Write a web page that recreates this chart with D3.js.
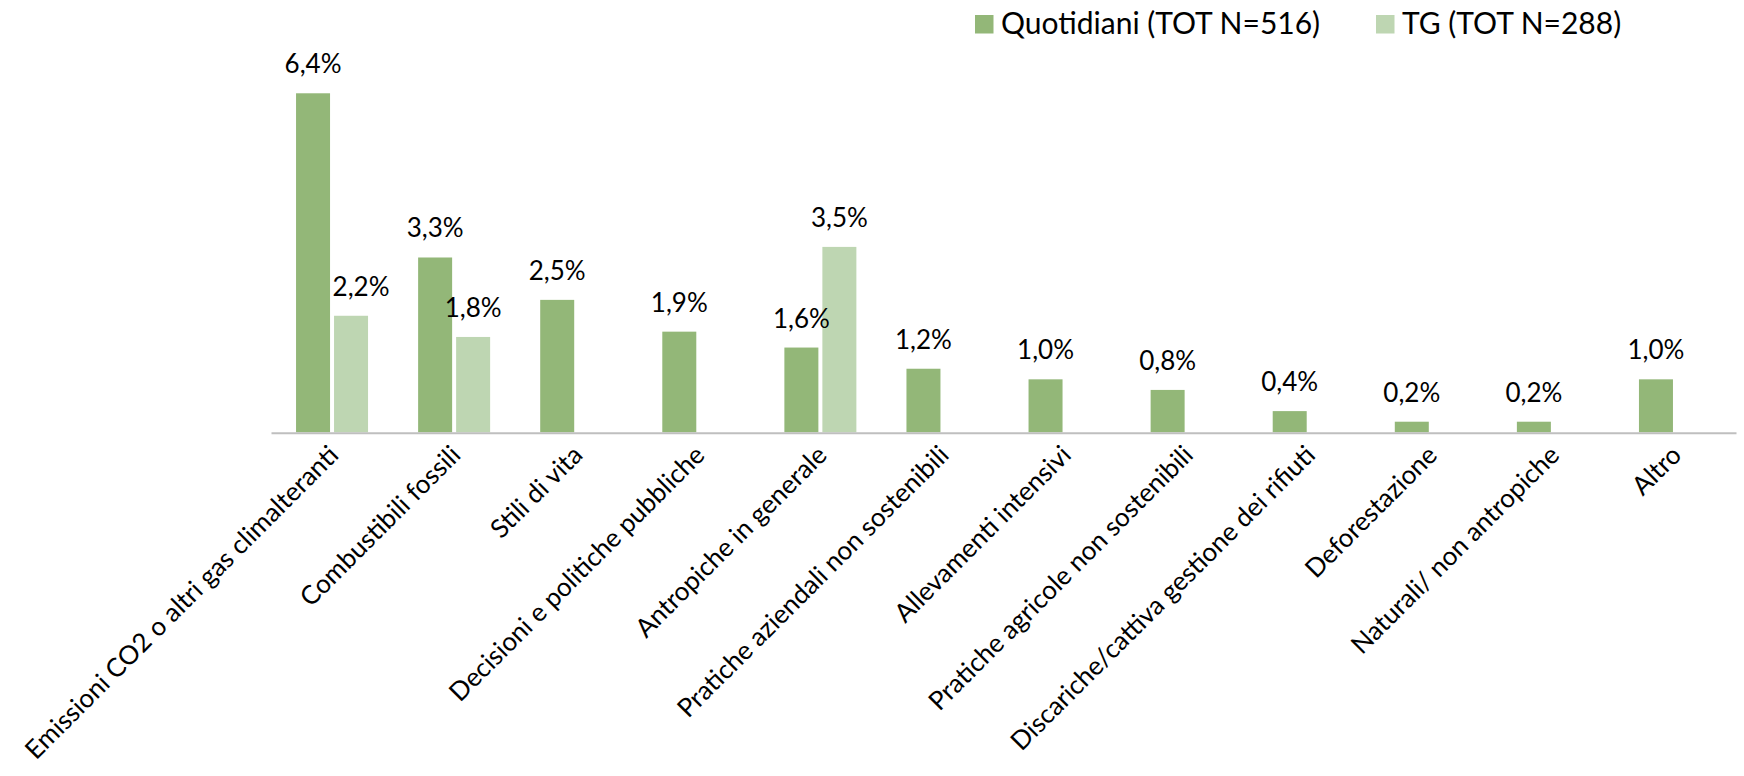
<!DOCTYPE html>
<html lang="it">
  <head>
    <meta charset="utf-8">
    <title>Cause</title>
    <script src="https://d3js.org/d3.v7.min.js"></script>
    <style>
    body { margin: 0; background: #fff; }
    text { font-family: Lato, "Open Sans", sans-serif; fill: #000; }
    </style>
  </head>
  <body>
    <div id="chart"></div>

    <script>
        // data
        const categories = [
            "Emissioni CO2 o altri gas climalteranti",
            "Combustibili fossili",
            "Stili di vita",
            "Decisioni e politiche pubbliche",
            "Antropiche in generale",
            "Pratiche aziendali non sostenibili",
            "Allevamenti intensivi",
            "Pratiche agricole non sostenibili",
            "Discariche/cattiva gestione dei rifiuti",
            "Deforestazione",
            "Naturali/ non antropiche",
            "Altro"
        ]
        const seriesNames = ["Quotidiani (TOT N=516)", "TG (TOT N=288)"]
        const quotidiani = [6.4, 3.3, 2.5, 1.9, 1.6, 1.2, 1.0, 0.8, 0.4, 0.2, 0.2, 1.0]
        const tg = [2.2, 1.8, null, null, 3.5, null, null, null, null, null, null, null]

        const colors = ["#93b778", "#bed6b2"]
        const width = 1744, height = 776

        const svg = d3.select("#chart").append("svg")
            .attr("width", width)
            .attr("height", height)

        const x0 = d3.scaleBand()
            .domain(categories)
            .range([271, 1736])

        // two bars per group, 38px step, group centred in the band
        const x1 = d3.scaleBand()
            .domain([0, 1])
            .range([0, 76])

        const y = d3.scaleLinear()
            .domain([0, 7])
            .range([432.3, 61.5])

        const rows = []
        categories.forEach(function(c, i) {
            [quotidiani[i], tg[i]].forEach(function(v, s) {
                if (v != null) rows.push({cat: c, s: s, v: v, i: i})
            })
        })

        const barX = function(d) {
            return x0(d.cat) + x0.bandwidth() / 2 - 36 + x1(d.s)
        }

        svg.selectAll("rect.bar")
            .data(rows)
            .enter()
            .append("rect")
            .attr("class", "bar")
            .attr("x", barX)
            .attr("y", d => y(d.v))
            .attr("width", x1.bandwidth() - 4)
            .attr("height", d => y(0) - y(d.v))
            .attr("fill", d => colors[d.s])

        // value labels (the first TG label is nudged off the tall bar, like the original)
        svg.selectAll("text.val")
            .data(rows)
            .enter()
            .append("text")
            .attr("class", "val")
            .attr("x", d => barX(d) + (x1.bandwidth() - 4) / 2 + (d.i === 0 && d.s === 1 ? 10 : 0))
            .attr("y", d => y(d.v) - 20)
            .attr("text-anchor", "middle")
            .style("font-size", "26px")
            .text(d => d.v.toFixed(1).replace(".", ",") + "%")

        // category axis
        const xAxis = d3.axisBottom(x0).tickSize(0).tickSizeOuter(0)
        const gx = svg.append("g")
            .attr("transform", "translate(0,432.7)")
            .call(xAxis)
        gx.select(".domain")
            .attr("stroke", "#bfbfbf")
            .attr("stroke-width", 2)
        gx.selectAll(".tick text")
            .attr("x", 0)
            .attr("y", 0)
            .attr("dy", 0)
            .attr("text-anchor", "end")
            .attr("transform", "translate(8,24) rotate(-45)")
            .style("font-size", "26px")
            .style("font-family", "Lato, 'Open Sans', sans-serif")
            .attr("fill", "#000")

        // legend
        const legendX = [975, 1376]
        const legend = svg.selectAll("g.legend")
            .data(seriesNames)
            .enter()
            .append("g")
            .attr("class", "legend")
            .attr("transform", (d, i) => "translate(" + legendX[i] + ",0)")
        legend.append("rect")
            .attr("x", 0)
            .attr("y", 15)
            .attr("width", 18.5)
            .attr("height", 18.5)
            .attr("fill", (d, i) => colors[i])
        legend.append("text")
            .attr("x", 26)
            .attr("y", 33.5)
            .style("font-size", "30px")
            .text(d => d)
    </script>
  </body>
</html>
